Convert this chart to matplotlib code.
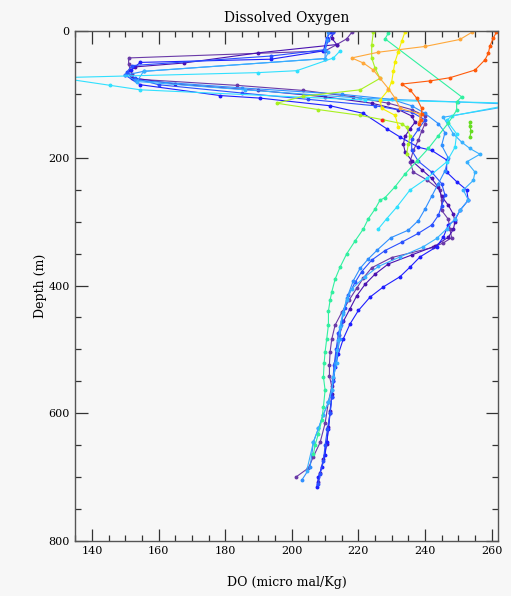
import numpy as np
import matplotlib
matplotlib.use('Agg')
import matplotlib.pyplot as plt
from matplotlib.ticker import MultipleLocator

# profiles: DO value (micro mol/kg) vs depth (m)
purple_do = [218, 216.5, 213.5, 210, 151, 151, 151.5, 152, 152.5, 183.5, 203.5, 218.5, 229, 236, 240, 240, 239, 238,
             236.5, 235.5, 236.5, 240.5, 244.5, 245, 245, 247, 247.5, 248, 245.5, 242.5, 230, 224, 221.5, 219.5, 217.3,
             215, 213, 212, 211.5, 211.3, 211.3, 212, 211, 210, 208.5, 206.5, 205, 201.3]
purple_z = [3, 13, 22, 32, 43, 52, 62, 68, 76, 86, 94, 104, 114, 124, 134, 146, 158, 172, 188, 206, 222, 234, 250, 266,
            282, 296, 312, 325, 333, 340, 356, 372, 388, 404, 422, 442, 462, 484, 504, 524, 542, 558, 582, 616, 646, 668,
            686, 700]

indigo_do = [212.5, 212, 213.5, 190, 167.5, 153, 150.5, 152, 165, 190, 210, 224, 232, 236, 237, 235.5, 234, 233.5, 234,
             236, 239, 242, 244, 245, 247, 248.5, 249, 248.5, 247, 243, 236, 229, 225, 222, 219.5, 217.5, 215.5, 214.3,
             213.5, 213, 212.5, 212, 211.5, 211, 210.5, 209.5, 208.5, 208]
indigo_z = [3, 12, 22, 35, 51, 57, 66, 74, 84, 94, 104, 114, 124, 134, 144, 154, 166, 178, 190, 204, 218, 232, 246, 260,
            274, 288, 300, 312, 324, 338, 352, 366, 382, 398, 416, 436, 456, 478, 500, 522, 545, 570, 596, 622, 648, 672,
            694, 708]

blue_do = [211.5, 210.5, 209.5, 193.7, 154.5, 151.8, 150, 154.5, 178.5, 190.5, 211.5, 221.5, 228.5, 232.5, 238, 242,
           246.5, 246.5, 249.5, 252.5, 253, 250.5, 249, 247, 245.5, 243.5, 238.5, 235.5, 232.5, 227.5, 223.5, 220,
           217.5, 215.5, 214, 213, 212.5, 212, 211.5, 211, 210.5, 210, 209, 208, 207.5]
blue_z = [3, 12, 32, 45, 50, 62, 70, 85, 102, 106, 118, 130, 154, 167, 183, 188, 203, 222, 237, 250, 266, 282, 297,
          305, 324, 339, 355, 371, 386, 402, 418, 439, 460, 483, 507, 528, 549, 575, 600, 625, 645, 665, 685, 700, 716]

blue2_do = [212.5, 211, 210, 193.7, 152, 150.5, 153, 160, 185, 205, 225, 236, 240, 238, 236, 236, 238, 242, 245, 246,
            245, 244, 242, 238, 233, 228, 224, 221, 219, 217, 216, 215, 214, 213.3, 212.7, 212.3, 212, 211.5, 210.7,
            210, 209.5, 208.5, 208]
blue2_z = [3, 15, 30, 40, 55, 65, 75, 85, 98, 108, 118, 128, 140, 155, 170, 188, 205, 222, 240, 258, 275, 290, 305,
           318, 332, 345, 360, 378, 395, 415, 435, 455, 475, 500, 525, 550, 575, 600, 625, 650, 675, 695, 711]

ltblue_do = [211, 210.5, 210, 210, 155.5, 150, 153, 185, 215, 230, 236, 240, 244, 246, 245, 247, 246, 244, 242, 240,
             238, 235, 229.7, 225.7, 223, 220.5, 218.5, 216.5, 215.5, 214.7, 214.5, 213, 212, 211, 209.4, 208, 206.5,
             205.5, 203]
ltblue_z = [3, 15, 30, 44, 64, 70, 78, 90, 100, 108, 118, 130, 146, 160, 180, 200, 220, 240, 260, 280, 298, 313, 325,
            344, 358, 373, 392, 420, 441, 462, 483, 522, 564, 583, 603, 624, 645, 685, 705]

ltblue2_do = [211, 210, 155.5, 153.5, 186, 220.5, 250, 268, 245.5, 248.5, 251, 253.5, 256.5, 252.5, 255, 254.5, 251.5,
              253, 250.5, 249, 246.5, 243.5, 239.5, 232.5, 226, 222, 218, 216.5, 215.3, 214.5, 214, 213.7, 213.5,
              212.5, 212, 211, 209.4, 208, 206.5, 204.5]
ltblue2_z = [34, 44, 64, 80, 93, 106, 112, 116, 136, 162, 175, 185, 194, 206, 222, 235, 250, 266, 282, 295, 311, 326,
             339, 355, 370, 386, 405, 423, 444, 465, 486, 501, 522, 543, 564, 583, 603, 624, 645, 690]

sky_do = [214.5, 212.5, 201.5, 190, 130, 145.5, 154.5, 222, 268, 248, 246.5, 249.5, 249, 246.5, 240.5, 235.5, 231.5,
          228.5, 226]
sky_z = [32, 43, 63, 66, 74, 86, 93, 109, 114, 134, 141, 162, 183, 206, 232, 250, 277, 295, 311]

spring_do = [229, 228, 251, 249.5, 249.5, 247, 244, 241, 237.5, 234, 231, 228, 226.5, 225, 223, 221.5, 219, 216.5,
             214.5, 213, 212, 211.5, 211, 211, 210.5, 210, 209.7, 209.5, 210, 209.5, 209, 208, 207, 206.5]
spring_z = [4, 13, 104, 112, 125, 145, 165, 185, 205, 225, 245, 262, 266, 280, 295, 311, 330, 350, 371, 390, 410, 423,
            440, 462, 483, 504, 522, 543, 564, 590, 611, 632, 650, 664]

ygreen_do = [224.5, 224, 224, 225, 226.5, 220.5, 203.5, 195.5, 208, 220.5, 227.5, 233, 234.5, 235.5, 235, 234.5]
ygreen_z = [2, 23, 43, 59, 75, 93, 103, 114, 124, 133, 140, 146, 152, 165, 178, 193]

green_do = [253.5, 253.5, 253.8, 253.5]
green_z = [143, 150, 158, 167]

yellow_do = [234, 233, 232, 231, 230.5, 230, 229, 226.5, 227, 231, 232]
yellow_z = [2, 17, 33, 49, 64, 80, 93, 109, 122, 133, 151]

orange_do = [254, 250.5, 240, 226, 218, 221.5, 224.5, 226.5, 229, 231, 232.5, 238.5, 238.3]
orange_z = [3, 14, 25, 34, 43, 51, 62, 75, 91, 106, 122, 131, 143]

redor_do = [261.4, 260.5, 259.5, 259, 258, 255, 247.5, 241.5, 233, 235.5, 237.5, 239, 239, 238.7, 238.3]
redor_z = [3, 12, 24, 36, 46, 62, 74, 79, 84, 93, 106, 122, 131, 140, 147]

red_do = [227]
red_z = [140]

profiles = [
    (purple_do, purple_z, '#6a3aa8'),
    (indigo_do, indigo_z, '#4a12b0'),
    (blue_do, blue_z, '#1e1eff'),
    (blue2_do, blue2_z, '#2a50ff'),
    (ltblue_do, ltblue_z, '#2f8fff'),
    (ltblue2_do, ltblue2_z, '#38b0ff'),
    (sky_do, sky_z, '#30e0ff'),
    (spring_do, spring_z, '#30f0a0'),
    (ygreen_do, ygreen_z, '#a8f020'),
    (green_do, green_z, '#66dd22'),
    (yellow_do, yellow_z, '#f5f000'),
    (orange_do, orange_z, '#ffa83a'),
    (redor_do, redor_z, '#ff5a0a'),
    (red_do, red_z, '#ff2020'),
]

bg = '#f7f7f7'
plt.rcParams['font.family'] = 'DejaVu Serif'

fig = plt.figure(figsize=(5.11, 5.96), dpi=100, facecolor=bg)
ax = fig.add_axes([0.1474, 0.0928, 0.8277, 0.856], facecolor=bg)

for do, z, c in profiles:
    ax.plot(do, z, color=c, lw=0.8, marker='o', ms=1.8, mec=c, mfc=c)

ax.set_xlim(135, 262)
ax.set_ylim(800, 0)
ax.xaxis.set_major_locator(MultipleLocator(20))
ax.xaxis.set_minor_locator(MultipleLocator(5))
ax.yaxis.set_major_locator(MultipleLocator(200))
ax.yaxis.set_minor_locator(MultipleLocator(50))
ax.tick_params(which='both', direction='in', top=True, right=True, labelsize=8, color='#333333', pad=4)
ax.tick_params(which='major', length=9, width=0.9)
ax.tick_params(which='minor', length=4.5, width=0.9)
for s in ax.spines.values():
    s.set_color('#555555')
    s.set_linewidth(1.0)

ax.set_title('Dissolved Oxygen', fontsize=10, pad=6)
ax.set_xlabel('DO (micro mal/Kg)', fontsize=9, labelpad=14)
ax.set_ylabel('Depth (m)', fontsize=9, labelpad=1)

fig.savefig('out.png', dpi=100, facecolor=bg)
